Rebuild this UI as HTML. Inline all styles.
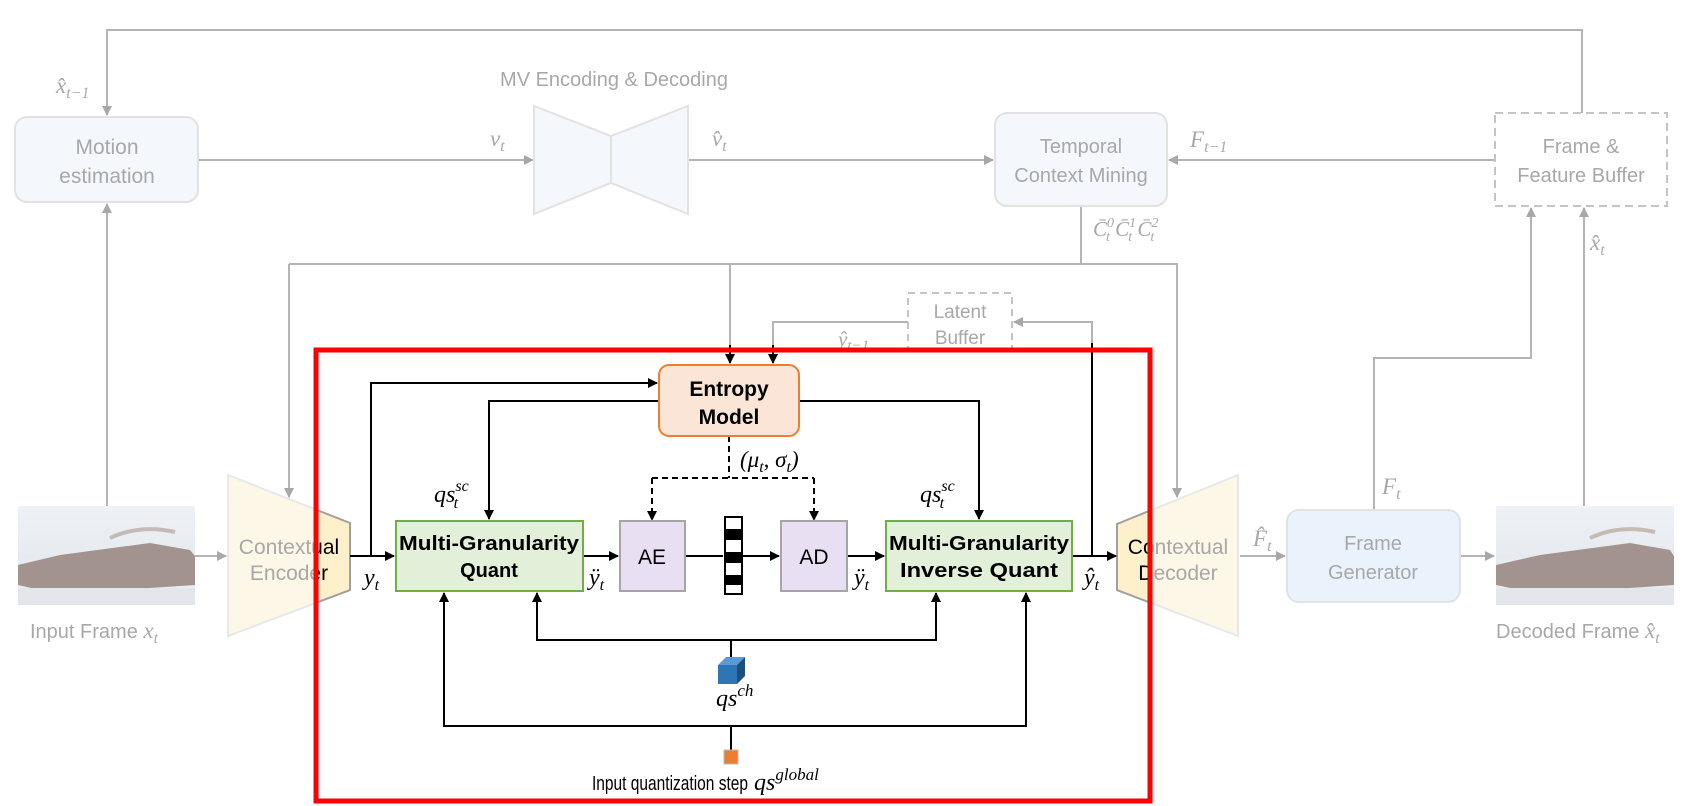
<!DOCTYPE html>
<html><head><meta charset="utf-8"><style>
html,body{margin:0;padding:0;background:#fff;}
svg{display:block;}
.g{font-family:"Liberation Sans",sans-serif;fill:#a8a8a8;}
.m{font-family:"Liberation Serif",serif;font-style:italic;}
.b{font-family:"Liberation Sans",sans-serif;font-weight:bold;fill:#000;}
</style></head><body>
<svg width="1702" height="806" viewBox="0 0 1702 806" xmlns="http://www.w3.org/2000/svg">
<defs>
<marker id="ag" markerWidth="10" markerHeight="10" refX="9" refY="5" orient="auto" markerUnits="userSpaceOnUse"><path d="M0,0 L10,5 L0,10 z" fill="#a8a8a8"/></marker>
<marker id="ab" markerWidth="10" markerHeight="10" refX="9" refY="5" orient="auto" markerUnits="userSpaceOnUse"><path d="M0,0 L10,5 L0,10 z" fill="#000"/></marker>
<clipPath id="inR"><rect x="318" y="350" width="831" height="450"/></clipPath>
<linearGradient id="sky" x1="0" y1="0" x2="0" y2="1"><stop offset="0" stop-color="#dfe6ee"/><stop offset="0.5" stop-color="#cfd9e4"/><stop offset="1" stop-color="#d8dde2"/></linearGradient>
</defs>

<g stroke="#b4b4b4" stroke-width="2" fill="none">
<path d="M1582,113 V30 H107 V115" marker-end="url(#ag)"/>
<path d="M107,506 V204" marker-end="url(#ag)"/>
<path d="M198,160 H533" marker-end="url(#ag)"/>
<path d="M688,160 H993" marker-end="url(#ag)"/>
<path d="M1495,160 H1169" marker-end="url(#ag)"/>
<path d="M1081,206 V264"/>
<path d="M289,264 H1177 V497" marker-end="url(#ag)"/>
<path d="M289,264 V497" marker-end="url(#ag)"/>
<path d="M730,264 V350"/>
<path d="M908,322 H773 V350"/>
<path d="M1092,343 V322 H1014" marker-end="url(#ag)"/>
<path d="M195,556 H226" marker-end="url(#ag)"/>
<path d="M1240,556 H1285" marker-end="url(#ag)"/>
<path d="M1460,556 H1494" marker-end="url(#ag)"/>
<path d="M1374,510 V358 H1531 V208" marker-end="url(#ag)"/>
<path d="M1584,506 V208" marker-end="url(#ag)"/>
</g>

<rect x="15" y="117" width="183" height="85" rx="12" fill="#f4f7fb" stroke="#e2e2e2" stroke-width="2"/>
<text class="g" x="107" y="154" font-size="21" text-anchor="middle">Motion</text>
<text class="g" x="107" y="183" font-size="21" text-anchor="middle">estimation</text>
<text class="g m" x="56" y="93" font-size="23">x̂<tspan font-size="16" dy="5">t−1</tspan></text>

<path d="M534,106 L611,136 L688,106 L688,214 L611,183 L534,214 Z" fill="#f4f7fb" stroke="#e2e2e2" stroke-width="2"/>
<line x1="611" y1="136" x2="611" y2="183" stroke="#e2e2e2" stroke-width="2"/>
<text class="g" x="614" y="86" font-size="20" text-anchor="middle">MV Encoding &amp; Decoding</text>
<text class="g m" x="490" y="146" font-size="23">v<tspan font-size="16" dy="5">t</tspan></text>
<text class="g m" x="712" y="146" font-size="23">v̂<tspan font-size="16" dy="5">t</tspan></text>

<rect x="995" y="113" width="172" height="93" rx="12" fill="#f4f7fb" stroke="#e2e2e2" stroke-width="2"/>
<text class="g" x="1081" y="153" font-size="20" text-anchor="middle">Temporal</text>
<text class="g" x="1081" y="182" font-size="20" text-anchor="middle">Context Mining</text>
<text class="g m" x="1190" y="147" font-size="23">F<tspan font-size="16" dy="5">t−1</tspan></text>
<text class="g m" x="1093" y="236" font-size="21">C̄<tspan font-size="14" dy="-9">0</tspan><tspan font-size="14" dx="-8" dy="14">t</tspan><tspan dy="-5"> C̄</tspan><tspan font-size="14" dy="-9">1</tspan><tspan font-size="14" dx="-8" dy="14">t</tspan><tspan dy="-5"> C̄</tspan><tspan font-size="14" dy="-9">2</tspan><tspan font-size="14" dx="-8" dy="14">t</tspan></text>

<rect x="1495" y="113" width="172" height="93" fill="#fff" stroke="#c4c4c4" stroke-width="2" stroke-dasharray="8,5"/>
<text class="g" x="1581" y="153" font-size="20" text-anchor="middle">Frame &amp;</text>
<text class="g" x="1581" y="182" font-size="20" text-anchor="middle">Feature Buffer</text>
<text class="g m" x="1590" y="250" font-size="23">x̂<tspan font-size="16" dy="5">t</tspan></text>

<rect x="908" y="293" width="104" height="58" fill="#fff" stroke="#c4c4c4" stroke-width="2" stroke-dasharray="7,5"/>
<text class="g" x="960" y="318" font-size="19" text-anchor="middle">Latent</text>
<text class="g" x="960" y="344" font-size="19" text-anchor="middle">Buffer</text>
<text class="g m" x="838" y="346" font-size="21">ŷ<tspan font-size="15" dy="4">t−1</tspan></text>

<g opacity="0.5">
<rect x="18" y="506" width="177" height="99" fill="url(#sky)"/>
<path d="M18,565 L60,555 L150,543 L190,550 L195,556 L195,585 L120,590 L40,590 L18,585 Z" fill="#4a2a22"/>
<path d="M110,538 Q140,524 175,532" stroke="#8a7a6a" stroke-width="4" fill="none"/>
<rect x="18" y="588" width="177" height="17" fill="#c8d0d8"/>
</g>
<text class="g" x="30" y="638" font-size="20">Input Frame <tspan class="m" font-size="23">x</tspan><tspan class="m" font-size="16" dy="5">t</tspan></text>

<g opacity="0.5">
<rect x="1496" y="506" width="178" height="99" fill="url(#sky)"/>
<path d="M1496,565 L1540,555 L1630,543 L1670,550 L1674,556 L1674,585 L1600,590 L1520,590 L1496,585 Z" fill="#4a2a22"/>
<path d="M1590,538 Q1620,524 1655,532" stroke="#8a7a6a" stroke-width="4" fill="none"/>
<rect x="1496" y="588" width="178" height="17" fill="#c8d0d8"/>
</g>
<text class="g" x="1496" y="638" font-size="20">Decoded Frame <tspan class="m" font-size="23">x̂</tspan><tspan class="m" font-size="16" dy="5">t</tspan></text>

<rect x="1287" y="510" width="173" height="92" rx="12" fill="#eaf2fc" stroke="#e2e2e2" stroke-width="2"/>
<text class="g" x="1373" y="550" font-size="20" text-anchor="middle">Frame</text>
<text class="g" x="1373" y="579" font-size="20" text-anchor="middle">Generator</text>
<text class="g m" x="1382" y="494" font-size="23">F<tspan font-size="16" dy="5">t</tspan></text>
<text class="g m" x="1253" y="546" font-size="23">F̂<tspan font-size="16" dy="5">t</tspan></text>

<path d="M228,475 L350,523 L350,590 L228,636 Z" fill="#fdf7e8" stroke="#e8e8e8" stroke-width="2"/>
<text class="g" x="289" y="554" font-size="21" text-anchor="middle">Contextual</text>
<text class="g" x="289" y="580" font-size="21" text-anchor="middle">Encoder</text>
<path d="M1117,524 L1238,475 L1238,636 L1117,590 Z" fill="#fdf7e8" stroke="#e8e8e8" stroke-width="2"/>
<text class="g" x="1178" y="554" font-size="21" text-anchor="middle">Contextual</text>
<text class="g" x="1178" y="580" font-size="21" text-anchor="middle">Decoder</text>
<g clip-path="url(#inR)">
<path d="M228,475 L350,523 L350,590 L228,636 Z" fill="#fff0cc" stroke="#a0a0a0" stroke-width="2"/>
<text x="289" y="554" font-size="21" text-anchor="middle" font-family="Liberation Sans,sans-serif" fill="#000">Contextual</text>
<text x="289" y="580" font-size="21" text-anchor="middle" font-family="Liberation Sans,sans-serif" fill="#000">Encoder</text>
<path d="M1117,524 L1238,475 L1238,636 L1117,590 Z" fill="#fff0cc" stroke="#a0a0a0" stroke-width="2"/>
<text x="1178" y="554" font-size="21" text-anchor="middle" font-family="Liberation Sans,sans-serif" fill="#000">Contextual</text>
<text x="1178" y="580" font-size="21" text-anchor="middle" font-family="Liberation Sans,sans-serif" fill="#000">Decoder</text>
</g>

<g stroke="#000" stroke-width="2" fill="none">
<path d="M730,345 V363" marker-end="url(#ab)"/>
<path d="M773,345 V363" marker-end="url(#ab)"/>
<path d="M350,556 H394" marker-end="url(#ab)"/>
<path d="M371,556 V383 H657" marker-end="url(#ab)"/>
<path d="M659,401 H489 V519" marker-end="url(#ab)"/>
<path d="M799,401 H979 V519" marker-end="url(#ab)"/>
<path d="M583,556 H618" marker-end="url(#ab)"/>
<path d="M685,556 H723"/>
<path d="M742,556 H779" marker-end="url(#ab)"/>
<path d="M847,556 H884" marker-end="url(#ab)"/>
<path d="M1072,556 H1116" marker-end="url(#ab)"/>
<path d="M1092,343 V556"/>
<path d="M731,657 V640 H537 V593" marker-end="url(#ab)"/>
<path d="M731,640 H936 V593" marker-end="url(#ab)"/>
<path d="M731,750 V726 H444 V593" marker-end="url(#ab)"/>
<path d="M731,726 H1026 V593" marker-end="url(#ab)"/>
</g>
<g stroke="#000" stroke-width="2" fill="none" stroke-dasharray="6,4">
<path d="M729,436 V478"/>
<path d="M652,478 H814"/>
<path d="M652,478 V517"/>
<path d="M814,478 V517"/>
</g>
<path d="M647,511 L652,521 L657,511 Z" fill="#000"/>
<path d="M809,511 L814,521 L819,511 Z" fill="#000"/>

<rect x="659" y="365" width="140" height="71" rx="10" fill="#fbe5d6" stroke="#ed7d31" stroke-width="2"/>
<text class="b" x="729" y="396" font-size="21" text-anchor="middle">Entropy</text>
<text class="b" x="729" y="424" font-size="21" text-anchor="middle">Model</text>
<text class="m" x="740" y="467" font-size="23">(μ<tspan font-size="16" dy="5">t</tspan><tspan dy="-5">, σ</tspan><tspan font-size="16" dy="5">t</tspan><tspan dy="-5">)</tspan></text>

<rect x="396" y="521" width="187" height="70" fill="#e2efd9" stroke="#70ad47" stroke-width="2"/>
<text class="b" x="489" y="550" font-size="20" text-anchor="middle" textLength="180" lengthAdjust="spacingAndGlyphs">Multi-Granularity</text>
<text class="b" x="489" y="577" font-size="20" text-anchor="middle">Quant</text>
<rect x="886" y="521" width="186" height="70" fill="#e2efd9" stroke="#70ad47" stroke-width="2"/>
<text class="b" x="979" y="550" font-size="20" text-anchor="middle" textLength="180" lengthAdjust="spacingAndGlyphs">Multi-Granularity</text>
<text class="b" x="979" y="577" font-size="20" text-anchor="middle" textLength="158" lengthAdjust="spacingAndGlyphs">Inverse Quant</text>

<rect x="620" y="521" width="65" height="70" fill="#e8dff3" stroke="#a6a6a6" stroke-width="2"/>
<text x="652" y="564" font-size="21" text-anchor="middle" font-family="Liberation Sans,sans-serif">AE</text>
<rect x="781" y="521" width="66" height="70" fill="#e8dff3" stroke="#a6a6a6" stroke-width="2"/>
<text x="814" y="564" font-size="21" text-anchor="middle" font-family="Liberation Sans,sans-serif">AD</text>

<rect x="725" y="517" width="17" height="77" fill="#fff" stroke="#000" stroke-width="2"/>
<rect x="725" y="529" width="17" height="11" fill="#000"/>
<rect x="725" y="552" width="17" height="11" fill="#000"/>
<rect x="725" y="575" width="17" height="10" fill="#000"/>

<text class="m" x="364" y="585" font-size="24">y<tspan font-size="16" dy="5">t</tspan></text>
<text class="m" x="589" y="585" font-size="24">ÿ<tspan font-size="16" dy="5">t</tspan></text>
<text class="m" x="854" y="585" font-size="24">ÿ<tspan font-size="16" dy="5">t</tspan></text>
<text class="m" x="1084" y="585" font-size="24">ŷ<tspan font-size="16" dy="5">t</tspan></text>
<text class="m" x="434" y="502" font-size="24">qs<tspan font-size="16" dy="-11">sc</tspan><tspan font-size="16" dx="-15" dy="17">t</tspan></text>
<text class="m" x="920" y="502" font-size="24">qs<tspan font-size="16" dy="-11">sc</tspan><tspan font-size="16" dx="-15" dy="17">t</tspan></text>

<path d="M718,665 L726,657 L745,657 L737,665 Z" fill="#5b9bd5"/>
<path d="M737,665 L745,657 L745,676 L737,684 Z" fill="#1f4e79"/>
<rect x="718" y="665" width="19" height="19" fill="#2e75b6"/>
<text class="m" x="716" y="706" font-size="24">qs<tspan font-size="17" dy="-10">ch</tspan></text>

<rect x="724" y="750" width="14" height="14" fill="#ed7d31" stroke="#bbb" stroke-width="1"/>
<text x="592" y="790" font-size="20" font-family="Liberation Sans,sans-serif" textLength="156" lengthAdjust="spacingAndGlyphs">Input quantization step</text>
<text class="m" x="754" y="790" font-size="24">qs<tspan font-size="17" dy="-10">global</tspan></text>

<rect x="316" y="350" width="834" height="451" fill="none" stroke="#ff0000" stroke-width="5"/>
</svg>
</body></html>
